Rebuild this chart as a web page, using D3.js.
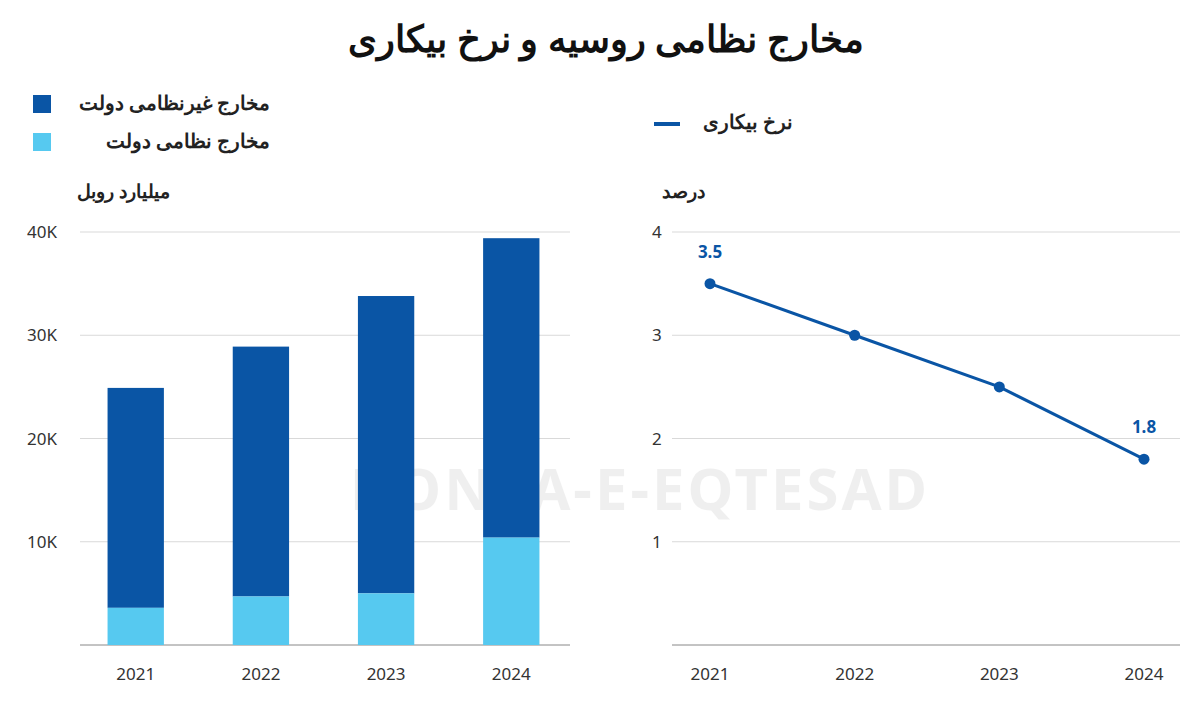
<!DOCTYPE html>
<html><head><meta charset="utf-8">
<script src="https://cdn.jsdelivr.net/npm/d3@7"></script>
<style>body{margin:0;background:#fff}text{font-family:"Noto Sans",sans-serif}</style>
</head><body><svg id="c" width="1200" height="705"></svg>
<script>
const years = ['2021', '2022', '2023', '2024'];
const military = [3.6, 4.7, 5.0, 10.4];
const total = [24.9, 28.9, 33.8, 39.4];
const unemployment = [3.5, 3.0, 2.5, 1.8];
const barTicks = [10, 20, 30, 40];
const lineTicks = [1, 2, 3, 4];

const svg = d3.select('#c');
const dark = '#0a55a5', light = '#56c9f0', grid = '#d9d9d9';

// rtl label: with direction rtl, anchor "start" sits at the right edge x
function rtl(x, y, t, size) {
  return svg.append('text').attr('x', x).attr('y', y).attr('direction', 'rtl').attr('text-anchor', 'start')
    .attr('font-size', size).attr('font-weight', 700).attr('fill', '#222').text(t);
}

svg.append('text').attr('x', 606).attr('y', 52).attr('text-anchor', 'middle').attr('direction', 'rtl')
  .attr('font-size', 37).attr('font-weight', 900).attr('fill', '#111').text('مخارج نظامی روسیه و نرخ بیکاری');

// watermark
svg.append('text').attr('x', 640).attr('y', 510).attr('text-anchor', 'middle')
  .attr('font-size', 58).attr('font-weight', 700).attr('fill', '#000').attr('opacity', 0.06)
  .attr('letter-spacing', 3).text('DONYA-E-EQTESAD');

// legends
[['مخارج غیرنظامی دولت', dark, 105], ['مخارج نظامی دولت', light, 143]].forEach(([t, c, y]) => {
  svg.append('rect').attr('x', 33).attr('y', y - 10).attr('width', 18).attr('height', 18).attr('fill', c);
  rtl(270, y + 5, t, 20);
});
svg.append('line').attr('x1', 654).attr('x2', 680).attr('y1', 124).attr('y2', 124).attr('stroke', dark).attr('stroke-width', 4);
rtl(793, 129, 'نرخ بیکاری', 20);
rtl(170, 198, 'میلیارد روبل', 19);
rtl(705, 198, 'درصد', 19);

// bar chart
const yB = d3.scaleLinear().domain([0, 40]).range([645, 232]);
const xB = d3.scaleBand().domain(years).range([70, 577]).paddingInner(0.55).paddingOuter(0.3);
const gB = svg.append('g');
barTicks.forEach(t => {
  gB.append('line').attr('x1', 80).attr('x2', 570).attr('y1', yB(t)).attr('y2', yB(t)).attr('stroke', grid);
  gB.append('text').attr('x', 27).attr('y', yB(t) + 6).attr('font-size', 17).attr('fill', '#333').text(t + 'K');
});
gB.append('line').attr('x1', 80).attr('x2', 570).attr('y1', yB(0)).attr('y2', yB(0)).attr('stroke', '#888');
years.forEach((yr, i) => {
  gB.append('rect').attr('x', xB(yr)).attr('width', xB.bandwidth()).attr('y', yB(total[i])).attr('height', yB(military[i]) - yB(total[i])).attr('fill', dark);
  gB.append('rect').attr('x', xB(yr)).attr('width', xB.bandwidth()).attr('y', yB(military[i])).attr('height', yB(0) - yB(military[i])).attr('fill', light);
  gB.append('text').attr('x', xB(yr) + xB.bandwidth() / 2).attr('y', 680).attr('text-anchor', 'middle').attr('font-size', 17).attr('fill', '#333').text(yr);
});

// line chart
const yL = d3.scaleLinear().domain([0, 4]).range([645, 232]);
const xL = d3.scalePoint().domain(years).range([710, 1144]);
const gL = svg.append('g');
lineTicks.forEach(t => {
  gL.append('line').attr('x1', 672).attr('x2', 1180).attr('y1', yL(t)).attr('y2', yL(t)).attr('stroke', grid);
  gL.append('text').attr('x', 652).attr('y', yL(t) + 6).attr('font-size', 17).attr('fill', '#333').text(t);
});
gL.append('line').attr('x1', 672).attr('x2', 1180).attr('y1', yL(0)).attr('y2', yL(0)).attr('stroke', '#888');
gL.append('path').datum(unemployment)
  .attr('d', d3.line().x((d, i) => xL(years[i])).y(d => yL(d)))
  .attr('fill', 'none').attr('stroke', dark).attr('stroke-width', 3);
unemployment.forEach((v, i) => {
  gL.append('circle').attr('cx', xL(years[i])).attr('cy', yL(v)).attr('r', 5.5).attr('fill', dark);
});
[[0, 3.5], [3, 1.8]].forEach(([i, v]) => {
  gL.append('text').attr('x', xL(years[i])).attr('y', yL(v) - 26).attr('text-anchor', 'middle')
    .attr('font-size', 17).attr('font-weight', 700).attr('fill', dark).text(v.toFixed(1));
});
years.forEach(yr => {
  gL.append('text').attr('x', xL(yr)).attr('y', 680).attr('text-anchor', 'middle').attr('font-size', 17).attr('fill', '#333').text(yr);
});
</script></body></html>
